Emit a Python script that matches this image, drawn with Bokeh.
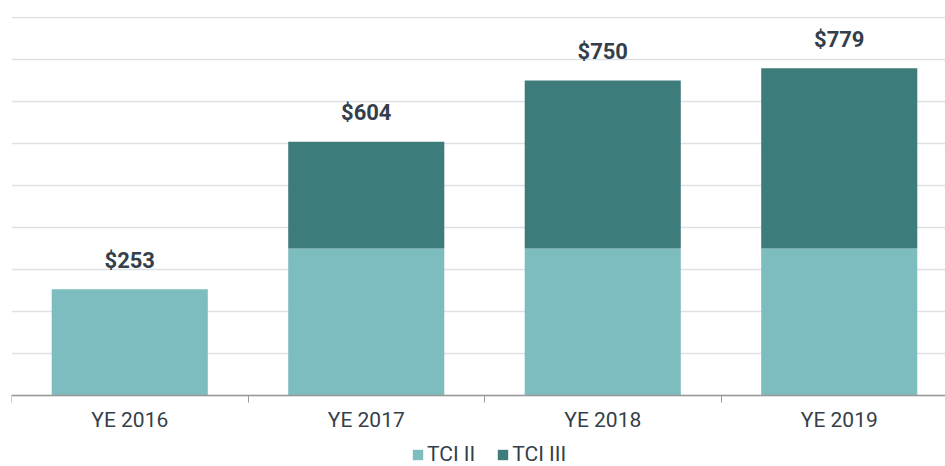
from bokeh.plotting import figure
from bokeh.models import Range1d, FixedTicker, ColumnDataSource, Legend, LegendItem
from bokeh.core.properties import value
from bokeh.embed import file_html
from bokeh.resources import INLINE

categories = ["YE 2016", "YE 2017", "YE 2018", "YE 2019"]
tci_ii = [253, 350, 350, 350]
tci_iii = [0, 254, 400, 429]
totals = [253, 604, 750, 779]
total_labels = ["$253", "$604", "$750", "$779"]
y_ticks = [0, 100, 200, 300, 400, 500, 600, 700, 800, 900]

LIGHT = "#7dbdbf"
DARK = "#3e7b7b"
TEXT = "#353f4b"

xs = [i + 0.5 for i in range(len(categories))]
src = ColumnDataSource(dict(
    x=xs, ii=tci_ii, iii=tci_iii,
    top_ii=tci_ii, bottom_iii=tci_ii,
    top_iii=[a + b for a, b in zip(tci_ii, tci_iii)],
    tot=totals, lab=total_labels,
))

FW = 934
PX = 0.42  # pixels per unit on y
p = figure(frame_width=FW, frame_height=450, output_backend="svg", toolbar_location=None,
           x_range=Range1d(0, FW / 236.5), y_range=Range1d(-71 / PX, 379 / PX),
           min_border_left=11, min_border_right=0, min_border_top=16, min_border_bottom=0)
p.outline_line_color = None
p.background_fill_color = "white"

r1 = p.vbar(x="x", width=0.66, bottom=0, top="top_ii", source=src,
            fill_color=LIGHT, line_color=None)
r2 = p.vbar(x="x", width=0.66, bottom="bottom_iii", top="top_iii", source=src,
            fill_color=DARK, line_color=None)

p.text(x="x", y="tot", text="lab", source=src, text_align="center",
       text_baseline="alphabetic", y_offset=-29,
       text_font=value("Roboto"), text_font_style="bold",
       text_font_size="22px", text_color=TEXT)

# x axis drawn at y = 0 inside the frame
xa = p.xaxis[0]
xa.fixed_location = 0
xa.ticker = FixedTicker(ticks=xs, minor_ticks=[0, 1, 2, 3, 4])
xa.major_label_overrides = {x: c for x, c in zip(xs, categories)}
xa.major_tick_line_color = None
xa.major_tick_out = 0
xa.major_tick_in = 0
xa.minor_tick_line_color = "#999999"
xa.minor_tick_in = 0
xa.minor_tick_out = 7
xa.axis_line_color = "#999999"
xa.axis_line_width = 1.5
xa.major_label_text_font = "Roboto"
xa.major_label_text_font_size = "21px"
xa.major_label_text_color = TEXT
xa.major_label_standoff = 5

p.yaxis.visible = False
p.ygrid.ticker = FixedTicker(ticks=y_ticks)
p.ygrid.grid_line_color = "#dde1e6"
p.ygrid.grid_line_width = 1.5
p.xgrid.visible = False

legend = Legend(items=[LegendItem(label="TCI II", renderers=[r1]),
                       LegendItem(label="TCI III", renderers=[r2])],
                orientation="horizontal", location=(400, 0),
                label_text_font="Roboto", label_text_font_size="21px",
                label_text_color=TEXT, glyph_width=13, glyph_height=13,
                label_standoff=3, spacing=21, border_line_color=None,
                padding=0, margin=0, background_fill_alpha=0)
p.add_layout(legend, "center")

open("out.html", "w").write(file_html(p, INLINE))
